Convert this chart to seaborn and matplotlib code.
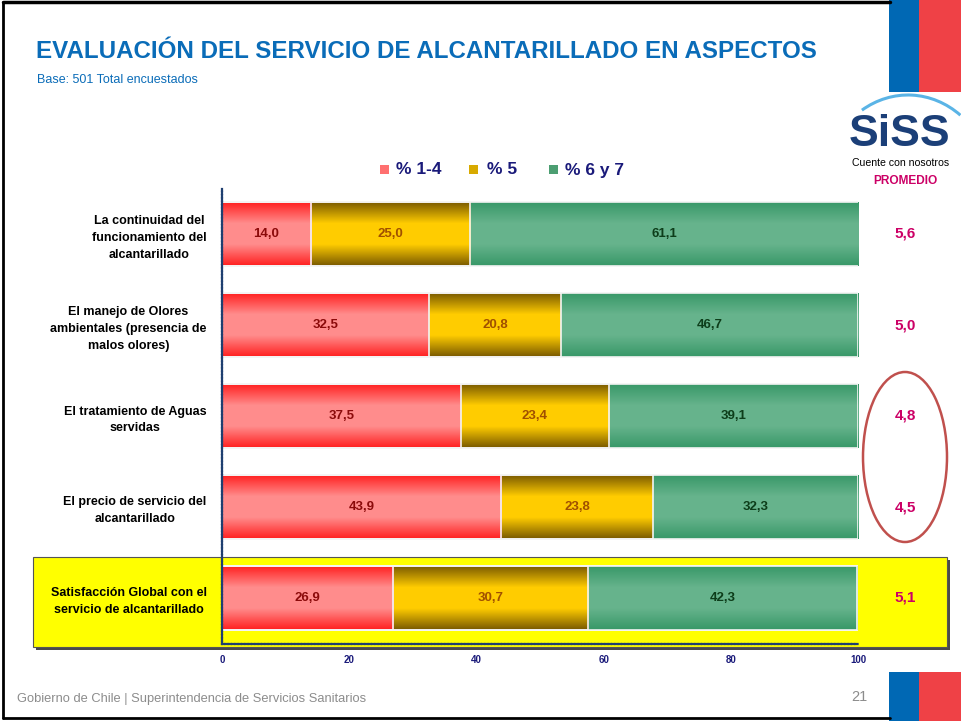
import numpy as np
import pandas as pd
import matplotlib
matplotlib.use("Agg")
import matplotlib.pyplot as plt
import seaborn as sns
from matplotlib.patches import Rectangle, Ellipse, Arc
from matplotlib.colors import LinearSegmentedColormap

# ---------------- data ----------------
categories = [
    "La continuidad del\nfuncionamiento del\nalcantarillado",
    "El manejo de Olores\nambientales (presencia de\nmalos olores)",
    "El tratamiento de Aguas\nservidas",
    "El precio de servicio del\nalcantarillado",
    "Satisfacción Global con el\nservicio de alcantarillado",
]
pct_1_4 = [14.0, 32.5, 37.5, 43.9, 26.9]
pct_5 = [25.0, 20.8, 23.4, 23.8, 30.7]
pct_6_7 = [61.1, 46.7, 39.1, 32.3, 42.3]
promedio = [5.6, 5.0, 4.8, 4.5, 5.1]
series_names = ["% 1-4", "% 5", "% 6 y 7"]
x_ticks = [0, 20, 40, 60, 80, 100]

sns.set_theme(style="white")
plt.rcParams['font.family'] = ['Liberation Sans', 'DejaVu Sans']

W, H = 961, 721
fig = plt.figure(figsize=(W / 100, H / 100), dpi=100)

# background overlay axes in pixel coords
bg = fig.add_axes([0, 0, 1, 1], zorder=0)
bg.set_xlim(0, W)
bg.set_ylim(H, 0)
bg.axis("off")

# slide frame
bg.plot([3, 3], [2, 718], color="black", lw=2)
bg.plot([3, 890], [2, 2], color="black", lw=2.5)
bg.plot([3, 890], [718, 718], color="black", lw=2)

# flags
for y0, y1 in [(0, 92), (672, 721)]:
    bg.add_patch(Rectangle((889, y0), 30, y1 - y0, color="#0068b4", lw=0))
    bg.add_patch(Rectangle((919, y0), 42, y1 - y0, color="#ef4146", lw=0))

# title
bg.text(36, 52, "EVALUACIÓN DEL SERVICIO DE ALCANTARILLADO EN ASPECTOS",
        color="#0a6cb8", fontsize=17.4, fontweight="bold", va="center", ha="left")
bg.text(37, 80, "Base: 501 Total encuestados", color="#0a6cb8", fontsize=9,
        va="center", ha="left")

# footer
bg.text(17, 699, "Gobierno de Chile | Superintendencia de Servicios Sanitarios",
        color="#8c8c8c", fontsize=9.3, va="center", ha="left")
bg.text(867, 697, "21", color="#8c8c8c", fontsize=10.5, va="center", ha="right")

# logo
bg.add_patch(Arc((908, 190), 170, 190, theta1=240, theta2=305, color="#5ab4e6", lw=2.2))
bg.text(900, 135, "SiSS", color="#1b3f78", fontsize=32, fontweight="bold",
        va="center", ha="center")
bg.text(901, 163, "Cuente con nosotros", color="black", fontsize=7.6,
        va="center", ha="center")
bg.text(905, 181, "PROMEDIO", color="#cc0066", fontsize=8.6, fontweight="bold",
        va="center", ha="center")

# yellow highlight box with shadow
bg.add_patch(Rectangle((36, 560), 914, 90, color="#4a4a4a", lw=0))
bg.add_patch(Rectangle((33, 557), 914, 90, facecolor="#ffff00", edgecolor="#555555", lw=0.8))

# ellipse
bg.add_patch(Ellipse((905, 457), 84, 170, fill=False, edgecolor="#c0504d", lw=1.8))

# ---------------- main chart ----------------
left_px, right_px = 222, 858
top_px, bot_px = 188.5, 643.5
ax = fig.add_axes([left_px / W, 1 - bot_px / H, (right_px - left_px) / W,
                   (bot_px - top_px) / H], zorder=1)
ax.patch.set_alpha(0)

df = pd.DataFrame({"cat": categories, "a": pct_1_4, "b": pct_5, "c": pct_6_7})
df["cum_b"] = df["a"] + df["b"]
df["cum_c"] = df["cum_b"] + df["c"]

layers = [("cum_c", "#66b38c"), ("cum_b", "#ffcc00"), ("a", "#ff8a8a")]
for col, colr in layers:
    sns.barplot(data=df, y="cat", x=col, orient="h", color=colr, width=0.7,
                edgecolor="white", linewidth=1.2, ax=ax, saturation=1)

grads = {
    "#66b38c": ("#389868", "#66b38c"),
    "#ffcc00": ("#7a5a00", "#ffcc00"),
    "#ff8a8a": ("#ff2020", "#ff8c8c"),
}
patch_groups = [ax.patches[i * 5:(i + 1) * 5] for i in range(3)]
grad = np.repeat(np.linspace(0, 1, 128).reshape(-1, 1), 2, axis=1)
for (col, colr), patches in zip(layers, patch_groups):
    edge, mid = grads[colr]
    cmap = LinearSegmentedColormap.from_list("g", [edge, mid, mid, edge])
    for p in patches:
        x0, y0 = p.get_x(), p.get_y()
        w, h = p.get_width(), p.get_height()
        im = ax.imshow(grad, cmap=cmap, aspect="auto", interpolation="nearest",
                       extent=(x0, x0 + w, y0 + h, y0), zorder=p.get_zorder() + 0.01)
        im.set_clip_path(p)

# white edges on top
for patches in patch_groups:
    for p in patches:
        ax.add_patch(Rectangle((p.get_x(), p.get_y()), p.get_width(), p.get_height(),
                               fill=False, edgecolor="#f4f4f4", lw=1.2, zorder=5))

# value labels
label_colors = ["#8b0a0a", "#a05000", "#0d3d1a"]
starts = [np.zeros(5), np.array(pct_1_4), np.array(pct_1_4) + np.array(pct_5)]
for vals, st, lc in zip([pct_1_4, pct_5, pct_6_7], starts, label_colors):
    for i, (v, s) in enumerate(zip(vals, st)):
        ax.text(s + v / 2, i, f"{v:.1f}".replace(".", ","), ha="center", va="center",
                fontsize=9.5, fontweight="bold", color=lc, zorder=6)

# promedio
for i, v in enumerate(promedio):
    ax.text(107.4, i, f"{v:.1f}".replace(".", ","), ha="center", va="center",
            fontsize=11, fontweight="bold", color="#cc0066", clip_on=False)

ax.set_xlim(0, 100)
ax.set_ylim(4.5, -0.5)
ax.set_xlabel("")
ax.set_ylabel("")
ax.set_xticks(x_ticks)
ax.set_xticklabels([str(t) for t in x_ticks], fontsize=7, fontweight="bold",
                   color="#1a1a7a")
ax.set_yticks(range(5))
ax.set_yticklabels(categories, fontsize=9, fontweight="bold", color="black",
                   linespacing=1.55)
for t in ax.get_yticklabels():
    t.set_ha("right")
    t.set_multialignment("center")
ax.tick_params(axis="y", length=0, pad=11)
ax.set_yticks([-0.5, 0.5, 1.5, 2.5, 3.5, 4.5], minor=True)
ax.tick_params(axis="y", which="minor", length=4, color="#1f3f70", width=1.2)
ax.tick_params(axis="x", length=3, color="#1f3f70", width=1.2, pad=5)
for s in ["top", "right"]:
    ax.spines[s].set_visible(False)
for s in ["left", "bottom"]:
    ax.spines[s].set_color("#1f3f70")
    ax.spines[s].set_linewidth(1.6)
    ax.spines[s].set_linestyle((0, (1, 0.5)))
    ax.spines[s].set_zorder(7)

# legend
leg_items = [("% 1-4", "#ff7070", 380, 396), ("% 5", "#d8aa00", 469, 487),
             ("% 6 y 7", "#4c9e72", 549, 565)]
for name, colr, mx, tx in leg_items:
    bg.add_patch(Rectangle((mx, 165), 9, 9, color=colr, lw=0))
    bg.text(tx, 170, name, color="#1a1a7a", fontsize=12.5, fontweight="bold",
            va="center", ha="left")

fig.savefig("out.png", dpi=100)
